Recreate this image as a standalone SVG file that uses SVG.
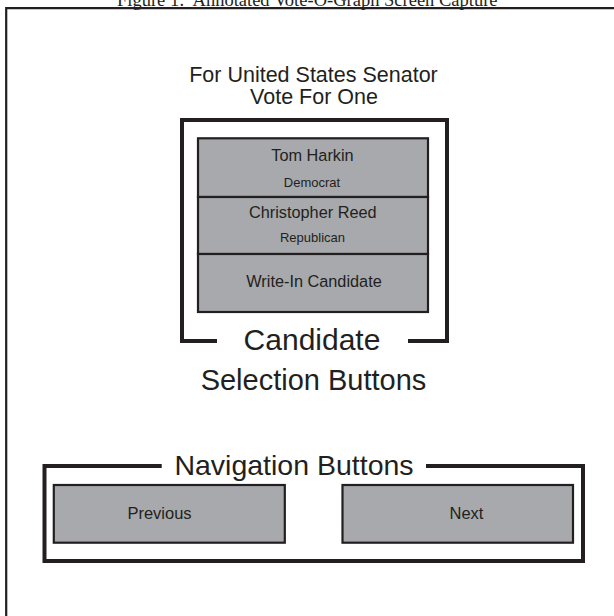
<svg xmlns="http://www.w3.org/2000/svg" width="614" height="616" viewBox="0 0 614 616">
<style>
.bg{fill:#ffffff}
.frame{fill:none;stroke:#231f20;stroke-width:2.2}
.bracket{fill:none;stroke:#231f20;stroke-width:4}
.btn{fill:#a7a9ac;stroke:#231f20;stroke-width:2.2}
.t{font-family:"Liberation Sans",Arial,sans-serif;fill:#231f20;text-anchor:middle}
.title{font-family:"Liberation Serif","Times New Roman",serif;fill:#231f20;font-size:18.5px}
</style>
<rect class="bg" x="0" y="0" width="614" height="616"/>
<g id="figure-title">
<text class="title" x="117" y="5.5" xml:space="preserve">Figure 1:  Annotated Vote-O-Graph Screen Capture</text>
</g>
<g id="screen-frame">
<path class="frame" d="M614 8.2 H6.2 V616"/>
</g>
<g id="contest-header">
<text class="t" x="313.5" y="81.7" font-size="21.5">For United States Senator</text>
<text class="t" x="314" y="104.3" font-size="21.5">Vote For One</text>
</g>
<g id="candidate-tom-harkin">
<rect class="btn" x="198" y="138.3" width="230" height="58.7"/>
<text class="t" x="312.5" y="161" font-size="16.3">Tom Harkin</text>
<text class="t" x="312" y="186.7" font-size="13">Democrat</text>
</g>
<g id="candidate-christopher-reed">
<rect class="btn" x="198" y="197" width="230" height="57"/>
<text class="t" x="312.8" y="218" font-size="16.3">Christopher Reed</text>
<text class="t" x="312.5" y="242" font-size="13">Republican</text>
</g>
<g id="candidate-write-in">
<rect class="btn" x="198" y="254" width="230" height="58"/>
<text class="t" x="314" y="287" font-size="16.3">Write-In Candidate</text>
</g>
<g id="candidate-selection-annotation">
<path class="bracket" d="M217 341 H182 V120 H447 V341 H408"/>
<text class="t" x="312" y="350" font-size="30">Candidate</text>
<text class="t" x="313.5" y="390" font-size="29">Selection Buttons</text>
</g>
<g id="button-previous">
<rect class="btn" x="53.8" y="485" width="231" height="57.7"/>
<text class="t" x="159.5" y="519.3" font-size="16.5">Previous</text>
</g>
<g id="button-next">
<rect class="btn" x="342.5" y="485" width="230.5" height="57.7"/>
<text class="t" x="466.5" y="519.3" font-size="16.5">Next</text>
</g>
<g id="navigation-annotation">
<path class="bracket" d="M161.7 466 H44.5 V561 H583 V466 H426"/>
<text class="t" x="294" y="475" font-size="28.5">Navigation Buttons</text>
</g>
</svg>
